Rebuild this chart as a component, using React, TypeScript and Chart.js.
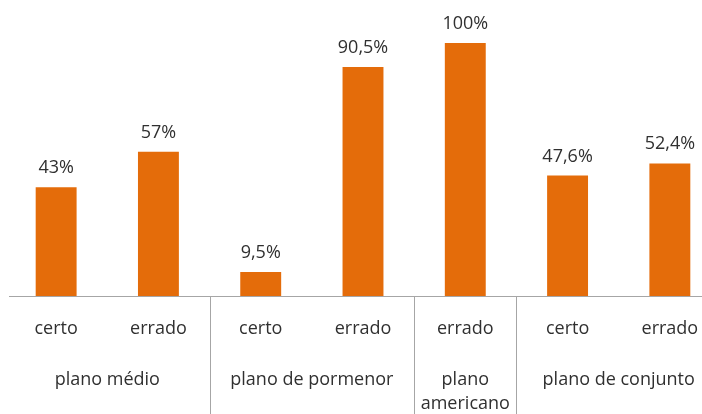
import React, { useEffect, useRef } from "react";
import { Chart, registerables } from "chart.js";

Chart.register(...registerables);

const categories = ["certo", "errado", "certo", "errado", "errado", "certo", "errado"];
const values = [43, 57, 9.5, 90.5, 100, 47.6, 52.4];
const groupNames: string[][] = [["plano médio"], ["plano de pormenor"], ["plano", "americano"], ["plano de conjunto"]];
const groupSizes = [2, 2, 1, 2];

const FONT = '"Open Sans", sans-serif';
const TEXT = "#303030";
const AXIS = "#A6A6A6";

const fmt = (v: number) => String(v).replace(".", ",") + "%";

const axisPlugin = {
  id: "customAxis",
  afterDatasetsDraw(chart: any) {
    const { ctx, chartArea } = chart;
    const x = chart.scales.x;
    const meta = chart.getDatasetMeta(0);
    const bottom = chartArea.bottom;
    ctx.save();
    // value labels
    ctx.font = `18px ${FONT}`;
    ctx.fillStyle = TEXT;
    ctx.textAlign = "center";
    ctx.textBaseline = "alphabetic";
    meta.data.forEach((bar: any, i: number) => {
      ctx.fillText(fmt(values[i]), bar.x, bar.y - 14);
    });
    // axis line
    ctx.strokeStyle = AXIS;
    ctx.lineWidth = 1;
    ctx.beginPath();
    ctx.moveTo(9, Math.round(bottom) + 0.5);
    ctx.lineTo(chartArea.right, Math.round(bottom) + 0.5);
    ctx.stroke();
    // category labels
    ctx.textBaseline = "middle";
    categories.forEach((c, i) => {
      ctx.fillText(c, x.getPixelForValue(i), bottom + 33);
    });
    // groups
    const half = (x.getPixelForValue(1) - x.getPixelForValue(0)) / 2;
    let idx = 0;
    groupSizes.forEach((n, g) => {
      const start = x.getPixelForValue(idx) - half;
      const end = x.getPixelForValue(idx + n - 1) + half;
      const cx = (start + end) / 2;
      groupNames[g].forEach((line, li) => {
        ctx.fillText(line, cx, bottom + 84 + li * 24);
      });
      if (g > 0) {
        const sx = Math.round(start) + 0.5;
        ctx.beginPath();
        ctx.moveTo(sx, bottom);
        ctx.lineTo(sx, chart.height);
        ctx.stroke();
      }
      idx += n;
    });
    ctx.restore();
  },
};

export default function App() {
  const ref = useRef<HTMLCanvasElement>(null);
  useEffect(() => {
    if (!ref.current) return;
    const chart = new Chart(ref.current, {
      type: "bar",
      data: {
        labels: categories,
        datasets: [
          {
            data: values,
            backgroundColor: "#E46C0A",
            barPercentage: 0.4,
            categoryPercentage: 1,
          },
        ],
      },
      options: {
        animation: false,
        responsive: false,
        devicePixelRatio: 1,
        layout: { padding: { left: 5, right: 1, top: 43, bottom: 118 } },
        plugins: { legend: { display: false }, tooltip: { enabled: false } },
        scales: {
          x: { display: false },
          y: { display: false, min: 0, max: 100 },
        },
      },
      plugins: [axisPlugin],
    });
    return () => chart.destroy();
  }, []);
  return (
    <div style={{ position: "fixed", left: 0, top: 0, width: 702, height: 414, overflow: "hidden", background: "#fff" }}>
      <canvas ref={ref} width={722} height={414} style={{ width: 722, height: 414, display: "block" }} />
    </div>
  );
}
